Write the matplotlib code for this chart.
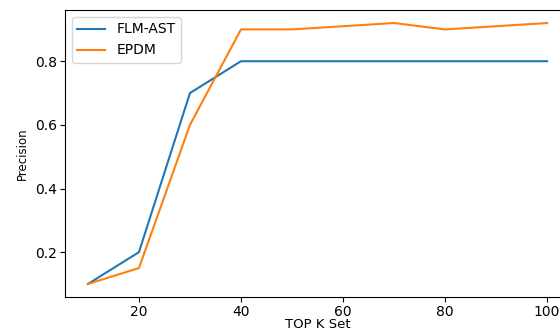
import matplotlib
matplotlib.use("Agg")
import matplotlib.pyplot as plt

k_values = [10, 20, 30, 40, 50, 60, 70, 80, 90, 100]
flm_ast = [0.1, 0.2, 0.7, 0.8, 0.8, 0.8, 0.8, 0.8, 0.8, 0.8]
epdm = [0.1, 0.15, 0.6, 0.9, 0.9, 0.91, 0.92, 0.9, 0.91, 0.92]

fig = plt.figure(figsize=(5.6, 3.33), dpi=100)
ax = fig.add_axes([0.116, 0.108, 0.902, 0.862])
ax.plot(k_values, flm_ast, color="#1f77b4", lw=1.5, label="FLM-AST")
ax.plot(k_values, epdm, color="#ff7f0e", lw=1.5, label="EPDM")
ax.set_xticks([20, 40, 60, 80, 100])
ax.set_yticks([0.2, 0.4, 0.6, 0.8])
ax.tick_params(labelsize=10, pad=2.5)
ax.set_xlabel("TOP K Set", fontsize=9.5)
ax.xaxis.label.set_va("bottom")
ax.xaxis.set_label_coords(0.5, -0.118)
ax.set_ylabel("Precision", fontsize=8.5)
ax.legend(loc="upper left", fontsize=10)
fig.savefig("out.png", dpi=100)
